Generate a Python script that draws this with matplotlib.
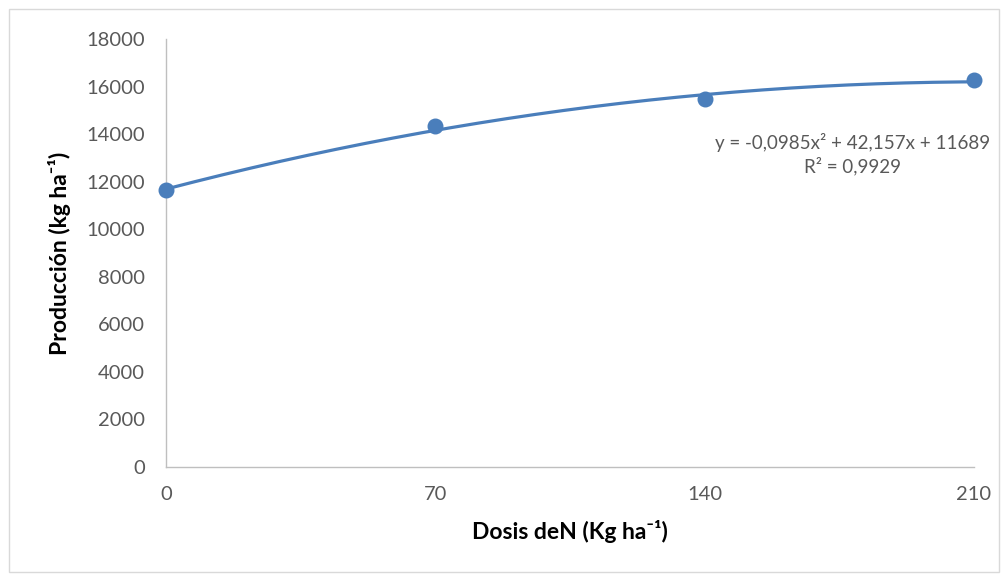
import numpy as np
import matplotlib
matplotlib.use("Agg")
import matplotlib.pyplot as plt
from matplotlib.patches import Rectangle

# Data
dosis = [0, 70, 140, 210]
produccion = [11650, 14350, 15490, 16290]
coef_a, coef_b, coef_c = -0.0985, 42.157, 11689
x_ticks = [0, 70, 140, 210]
y_ticks = [0, 2000, 4000, 6000, 8000, 10000, 12000, 14000, 16000, 18000]

plt.rcParams['font.family'] = ['Lato', 'DejaVu Sans']

fig = plt.figure(figsize=(10.08, 5.81), dpi=100)
ax = fig.add_axes([0.1647, 0.1962, 0.8016, 0.7367])

blue = '#4a7ebb'
xs = np.linspace(0, 210, 200)
ax.plot(xs, coef_a * xs**2 + coef_b * xs + coef_c, color=blue, lw=2.3, zorder=2)
ax.scatter(dosis, produccion, s=110, color=blue, zorder=3, clip_on=False)

ax.set_xlim(0, 210)
ax.set_ylim(0, 18000)
ax.set_xticks(x_ticks)
ax.set_yticks(y_ticks)
for s in ['top', 'right']:
    ax.spines[s].set_visible(False)
ax.spines['left'].set_color('#bfbfbf')
ax.spines['bottom'].set_color('#bfbfbf')
ax.spines['left'].set_linewidth(1)
ax.spines['bottom'].set_linewidth(1)
ax.tick_params(axis='both', length=0, labelsize=14.5, labelcolor='#595959')
ax.tick_params(axis='y', pad=15)
ax.tick_params(axis='x', pad=14)

lab_family = ['Lato', 'DejaVu Sans']
ax.set_xlabel('Dosis deN (Kg ha⁻¹)', fontsize=16.5, fontweight='bold', labelpad=12,
              family=lab_family)
ax.set_ylabel('Producción (kg ha⁻¹)', fontsize=16.5, fontweight='bold', labelpad=11,
              family=lab_family)

fig.text(0.846, 0.735, 'y = -0,0985x² + 42,157x + 11689\nR² = 0,9929',
         ha='center', va='center', fontsize=13.5, color='#595959', linespacing=1.3)

fig.patches.append(Rectangle((0.009, 0.015), 0.982, 0.97, transform=fig.transFigure,
                             fill=False, edgecolor='#d9d9d9', lw=1))

fig.savefig('out.png', dpi=100)
